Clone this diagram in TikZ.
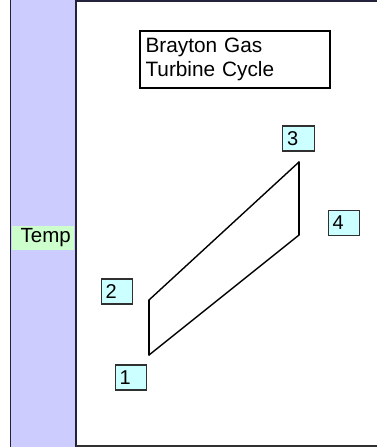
\documentclass[tikz,border=0pt]{standalone}
\usepackage{fontspec}
\setmainfont{Liberation Sans}
\definecolor{stripfill}{HTML}{CCCCFF}
\definecolor{labelfill}{HTML}{CCFFFF}
\definecolor{axisfill}{HTML}{CCFFCC}
\definecolor{frameline}{HTML}{22223A}
\definecolor{boxline}{HTML}{303030}
\tikzset{
  numbox/.style={draw=boxline, line width=1.2pt, fill=labelfill,
    minimum height=25, text width=23, inner xsep=4.2, inner ysep=0,
    align=left, font=\fontsize{20}{22}\selectfont},
  titlebox/.style={draw=black, line width=1.3pt, fill=white,
    minimum width=190, minimum height=57, text width=179, inner xsep=5.3,
    align=left, font=\fontsize{20.8}{24.5}\selectfont},
  cycleline/.style={draw=black, line width=1.4pt, line cap=round}
}
\begin{document}
\begin{tikzpicture}[x=1pt,y=-1pt]
\useasboundingbox (0,0) rectangle (376,447);
% side strip with its axis caption
\fill[stripfill] (10.5,-2) rectangle (76,449);
\draw[frameline, line width=1.2pt] (10.5,-2) -- (10.5,449);
% plot panel
\fill[white] (76,1.5) rectangle (380,446);
\draw[frameline, line width=1.6pt] (76,449) -- (76,1.2) -- (380,1.2);
\draw[boxline, line width=1.6pt] (76,446) -- (380,446);
\node[fill=axisfill, minimum height=24, text width=55.5, inner xsep=3.2,
  inner ysep=0, align=right, font=\fontsize{20.5}{22}\selectfont]
  (temp) at (43,238) {Temp};
% title
\node[titlebox] (title) at (235,59.5) {Brayton Gas\\Turbine Cycle};
% state point labels
\node[numbox] (n3) at (298.5,138.5) {3};
\node[numbox] (n4) at (344,223) {4};
\node[numbox] (n2) at (117,291.5) {2};
\node[numbox] (n1) at (131,377.5) {1};
% cycle path
\coordinate (p1) at (149,355);
\coordinate (p2) at (149,300);
\coordinate (p3) at (299,162);
\coordinate (p4) at (299,235);
\draw[cycleline] (p1) -- (p2);
\draw[cycleline] (p2) -- (p3);
\draw[cycleline] (p3) -- (p4);
\draw[cycleline] (p4) -- (p1);
\end{tikzpicture}
\end{document}
